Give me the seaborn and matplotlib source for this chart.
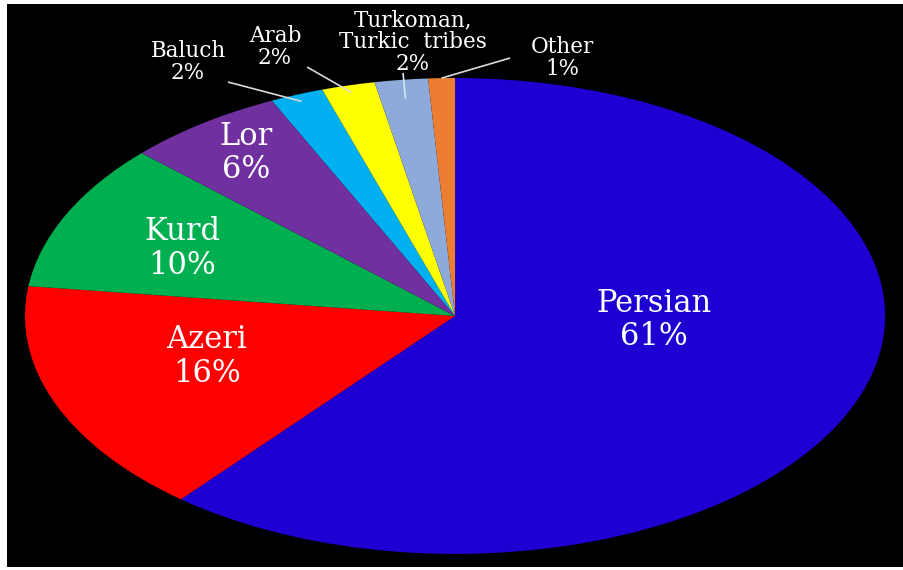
import matplotlib
matplotlib.use("Agg")
import matplotlib.pyplot as plt
import seaborn as sns
import numpy as np

# ---- data ----
groups = ["Persian", "Azeri", "Kurd", "Lor", "Baluch", "Arab",
          "Turkoman,\nTurkic  tribes", "Other"]
shares = [61, 16, 10, 6, 2, 2, 2, 1]
hex_colors = ["#1e00d2", "#ff0000", "#00b050", "#7030a0",
              "#00b0f0", "#ffff00", "#8eaadb", "#ed7d31"]

# ---- layout (label centres in data units, leader-line starts) ----
inside_pos = {0: (0.463, -0.017), 1: (-0.577, -0.172),
              2: (-0.635, 0.282), 3: (-0.486, 0.685)}
outside_pos = {4: (-0.621, 1.067), 5: (-0.419, 1.13),
               6: (-0.098, 1.151), 7: (0.249, 1.084)}
line_start = {4: (-0.528, 0.983), 5: (-0.344, 1.046),
              6: (-0.121, 1.021), 7: (0.128, 1.084)}
line_r = {4: 0.97, 5: 0.97, 6: 0.92, 7: 1.0}
line_col = {4: "#d9d9d9", 5: "#d9d9d9", 6: "#cfe8f3", 7: "#d9d9d9"}

sns.set_theme(style="white")
plt.rcParams["font.family"] = ["DejaVu Serif", "DejaVu Sans"]
palette = sns.color_palette(hex_colors)

fig = plt.figure(figsize=(9.04, 5.70), dpi=100, facecolor="white")
ax = fig.add_axes([7 / 904, 3 / 570, 897 / 904, 563 / 570])

wedges, _ = ax.pie(shares, colors=palette, startangle=90, counterclock=False,
                   wedgeprops=dict(linewidth=0))
ax.set_aspect("auto")
ax.set_frame_on(True)
ax.set_facecolor("black")
for s in ax.spines.values():
    s.set_visible(False)
ax.set_xticks([])
ax.set_yticks([])
ax.set_xlim(-1.042, 1.044)
ax.set_ylim(-1.055, 1.311)

for i, (x, y) in inside_pos.items():
    ax.text(x, y, f"{groups[i]}\n{shares[i]}%", ha="center", va="center",
            color="white", fontsize=22, linespacing=1.12)

for i, (x, y) in outside_pos.items():
    ax.text(x, y, f"{groups[i]}\n{shares[i]}%", ha="center", va="center",
            color="white", fontsize=15.5, linespacing=1.0)
    w = wedges[i]
    mid = np.deg2rad((w.theta1 + w.theta2) / 2)
    r = line_r[i]
    sx, sy = line_start[i]
    ax.plot([sx, r * np.cos(mid)], [sy, r * np.sin(mid)],
            color=line_col[i], lw=1.2, solid_capstyle="butt")

fig.savefig("out.png", dpi=100, facecolor="white")
